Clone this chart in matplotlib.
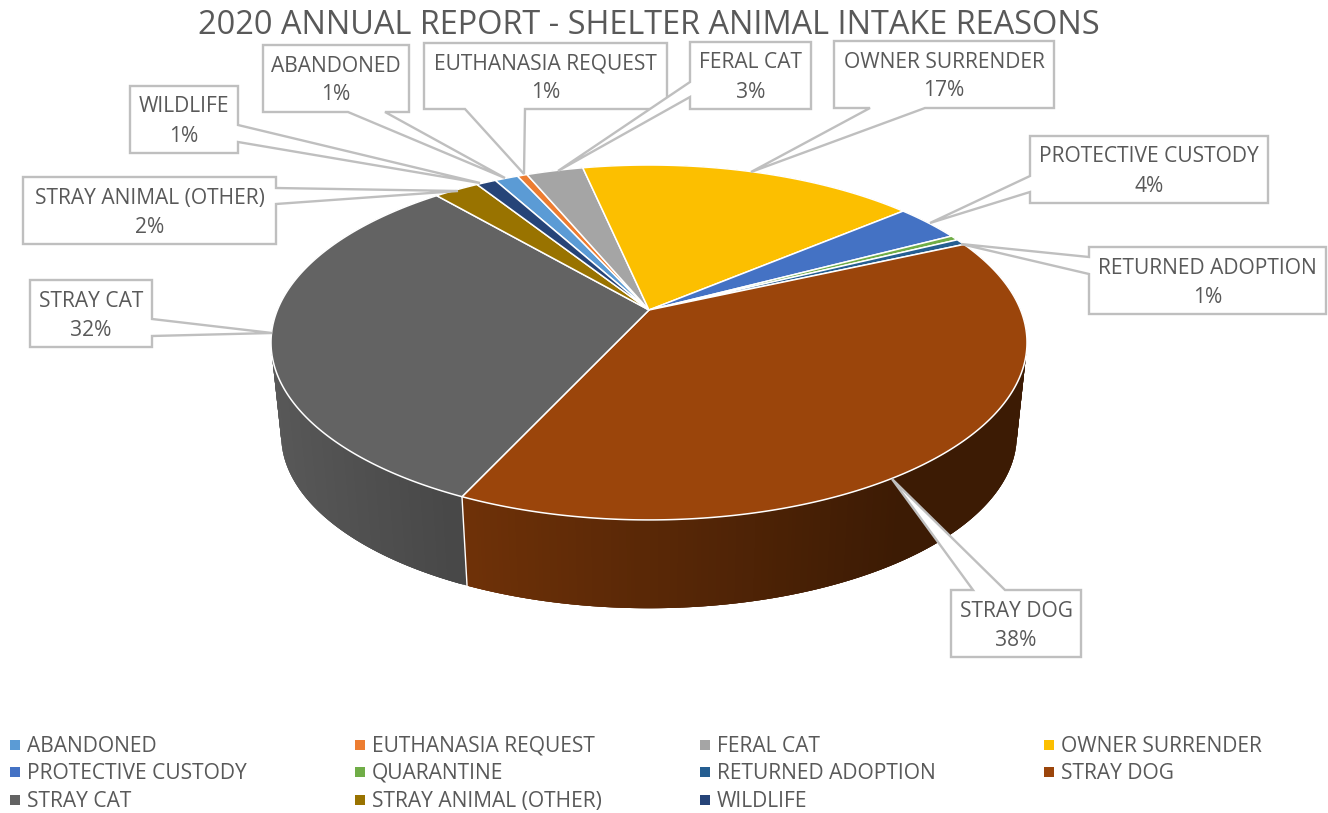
#!/usr/bin/env python3
"""2020 annual report - shelter animal intake reasons (perspective 3D pie)"""
import numpy as np
import matplotlib
matplotlib.use('Agg')
import matplotlib.pyplot as plt
from matplotlib.collections import PolyCollection
from matplotlib.patches import Polygon

plt.rcParams['font.family'] = ['Open Sans', 'DejaVu Sans']

# data, clockwise from the first slice
categories = ['ABANDONED', 'EUTHANASIA REQUEST', 'FERAL CAT', 'OWNER SURRENDER',
              'PROTECTIVE CUSTODY', 'QUARANTINE', 'RETURNED ADOPTION', 'STRAY DOG',
              'STRAY CAT', 'STRAY ANIMAL (OTHER)', 'WILDLIFE']
values = [1.2, 0.5, 2.9, 17.2, 3.4, 0.45, 0.55, 38.6, 31.8, 2.3, 1.0]
percent_labels = ['1%', '1%', '3%', '17%', '4%', None, '1%', '38%', '32%', '2%', '1%']
colors = ['#5B9BD5', '#ED7D31', '#A5A5A5', '#FCBF00', '#4472C4', '#70AD47',
          '#255E91', '#9B450B', '#636363', '#997300', '#264478']

TEXT = '#595959'
LINE = '#BFBFBF'
LABEL_SIZE = 15.1

# pie geometry (pixels): projective map of the unit circle
CX, CY = 649, 310
A, B, K = 371.6, 171.5, 0.183
START = -28.7
DEPTH, SHRINK = 94, 0.973

# callouts: box (x0, y0, x1, y1), side of the pointer, base a, base b, tip
callouts = {
    'ABANDONED': ((263, 45, 409, 112), 'bottom', 348, 385, (505, 178)),
    'EUTHANASIA REQUEST': ((424, 43, 667, 109), 'bottom', 465, 525, (524, 174)),
    'FERAL CAT': ((690, 42, 811, 109), 'left', 82, 97, (558, 171)),
    'OWNER SURRENDER': ((834, 41, 1054, 108), 'bottom', 870, 925, (751, 172)),
    'PROTECTIVE CUSTODY': ((1030, 136, 1268, 203), 'left', 176, 192, (930, 223)),
    'RETURNED ADOPTION': ((1089, 247, 1326, 314), 'left', 257, 274, (961, 244)),
    'STRAY DOG': ((951, 590, 1081, 657), 'top', 973, 1005, (892, 479)),
    'STRAY CAT': ((30, 280, 152, 347), 'right', 319, 336, (272, 333)),
    'STRAY ANIMAL (OTHER)': ((23, 177, 276, 244), 'right', 188, 204, (458, 191)),
    'WILDLIFE': ((130, 86, 238, 153), 'right', 125, 142, (480, 183)),
}

legend_x = [10, 355, 700, 1044]
legend_y = [745, 772, 800]


def project(theta):
    """clockwise degrees from top -> pixel position on the top rim"""
    t = np.radians(theta)
    x, y = np.sin(t), np.cos(t)
    w = 1 + K * y
    return CX + A * x / w, CY - B * y / w


def drop(px, py):
    """top rim pixel -> matching pixel on the bottom rim"""
    return CX + SHRINK * (px - CX), CY + SHRINK * (py - CY) + DEPTH


def callout_outline(box, side, a, b, tip):
    x0, y0, x1, y1 = box
    if side == 'bottom':
        return [(x0, y0), (x1, y0), (x1, y1), (b, y1), tip, (a, y1), (x0, y1)]
    if side == 'top':
        return [(x0, y0), (a, y0), tip, (b, y0), (x1, y0), (x1, y1), (x0, y1)]
    if side == 'left':
        return [(x0, y0), (x1, y0), (x1, y1), (x0, y1), (x0, b), tip, (x0, a)]
    return [(x0, y0), (x1, y0), (x1, a), tip, (x1, b), (x1, y1), (x0, y1)]


fig = plt.figure(figsize=(13.28, 8.13), dpi=100)
ax = fig.add_axes([0, 0, 1, 1])
ax.set_xlim(0, 1328)
ax.set_ylim(813, 0)
ax.axis('off')

ax.text(649, 25, '2020 ANNUAL REPORT - SHELTER ANIMAL INTAKE REASONS',
        fontsize=23.4, color=TEXT, ha='center', va='center')

edges = START + np.concatenate([[0], np.cumsum(values)]) / np.sum(values) * 360

# side wall, back to front; each quad overlaps the next one so no stripes show
quads, quad_colors, depths = [], [], []
for i, col in enumerate(colors):
    n = max(int((edges[i + 1] - edges[i]) * 2), 2)
    th = np.linspace(edges[i], edges[i + 1], n + 1)
    px, py = project(th)
    qx, qy = drop(px, py)
    rgb = np.array(matplotlib.colors.to_rgb(col))
    for j in range(n):
        k = min(j + 3, n)
        quads.append([(px[j], py[j]), (px[k], py[k]), (qx[k], qy[k]), (qx[j], qy[j])])
        shade = np.interp((px[j] + px[j + 1]) / 2, [272, 463, 900, 1027], [0.89, 0.72, 0.39, 0.39])
        quad_colors.append(rgb * shade)
        depths.append(py[j])
order = np.argsort(depths, kind='stable')
ax.add_collection(PolyCollection([quads[i] for i in order],
                                 facecolors=[quad_colors[i] for i in order],
                                 edgecolors='none', zorder=2))

# seams on the front of the wall
for e in edges[:-1]:
    if np.cos(np.radians(e)) < 0:
        px, py = project(e)
        qx, qy = drop(px, py)
        ax.plot([px, qx], [py, qy], color='white', lw=1.0, zorder=3)

# top face
for i, col in enumerate(colors):
    n = max(int((edges[i + 1] - edges[i]) * 3), 4)
    px, py = project(np.linspace(edges[i], edges[i + 1], n + 1))
    pts = [(CX, CY)] + list(zip(px, py))
    ax.add_patch(Polygon(pts, closed=True, facecolor=col, edgecolor='white',
                         lw=1.1, joinstyle='round', zorder=4))

# data label callouts
for name, pct in zip(categories, percent_labels):
    if pct is None:
        continue
    box, side, a, b, tip = callouts[name]
    ax.add_patch(Polygon(callout_outline(box, side, a, b, tip), closed=True,
                         facecolor='white', edgecolor=LINE, lw=1.7, zorder=5))
    xm = (box[0] + box[2]) / 2
    ax.text(xm, box[1] + 21, name, fontsize=LABEL_SIZE, color=TEXT, ha='center', va='center', zorder=6)
    ax.text(xm, box[1] + 50, pct, fontsize=LABEL_SIZE, color=TEXT, ha='center', va='center', zorder=6)

# legend, row by row
for i, (name, col) in enumerate(zip(categories, colors)):
    lx = legend_x[i % 4]
    ly = legend_y[i // 4]
    ax.scatter([lx + 4.5], [ly], marker='s', s=42, color=col, linewidths=0)
    ax.text(lx + 17, ly + 1, name, fontsize=LABEL_SIZE, color=TEXT, ha='left', va='center')

fig.savefig('out.png', dpi=100)
